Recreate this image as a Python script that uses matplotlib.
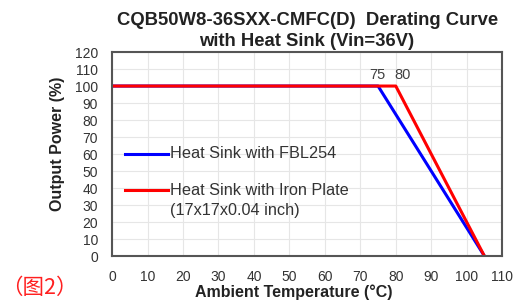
import matplotlib

matplotlib.use("Agg")
from matplotlib import pyplot as plt

# 降额曲线数据
temp_fbl = [0, 75, 105]
power_fbl = [100, 100, 0]
temp_iron = [0, 80, 105]
power_iron = [100, 100, 0]
x_ticks = list(range(0, 111, 10))
y_ticks = list(range(0, 121, 10))
label_fbl = "Heat Sink with FBL254"
label_iron = "Heat Sink with Iron Plate"
label_iron2 = "(17x17x0.04 inch)"

plt.rcParams["font.family"] = ["Liberation Sans", "DejaVu Sans"]

fig = plt.figure(figsize=(5.14, 3.06), dpi=100)
ax = fig.add_axes([0.218, 0.163, 0.759, 0.667])

ax.plot(temp_fbl, power_fbl, color="#0000ff", lw=2.2)
ax.plot(temp_iron, power_iron, color="#ff0000", lw=2.2)

ax.set_xlim(0, 110)
ax.set_ylim(0, 120)
ax.set_xticks(x_ticks)
ax.set_yticks(y_ticks)
ax.tick_params(length=0, labelsize=10, colors="#333333", pad=10)
ax.grid(True, color="#e6e6e6", lw=0.8)
ax.set_axisbelow(True)
for s in ax.spines.values():
    s.set_color("#555555")
    s.set_linewidth(1.5)

ax.set_xlabel("Ambient Temperature (\u00b0C)", fontsize=11.5, fontweight="bold", color="#222222")
ax.set_ylabel("Output Power (%)", fontsize=11.5, fontweight="bold", color="#222222")
ax.xaxis.set_label_coords(0.467, -0.14)
ax.yaxis.set_label_coords(-0.12, 0.55)
ax.set_title("CQB50W8-36SXX-CMFC(D)  Derating Curve\nwith Heat Sink (Vin=36V)",
             fontsize=13.3, fontweight="bold", color="#222222", linespacing=1.35, pad=4)

ax.text(74.8, 102.5, "75", ha="center", va="bottom", fontsize=10.5, color="#404040")
ax.text(82, 102.5, "80", ha="center", va="bottom", fontsize=10.5, color="#404040")

# 图例(手动)
ax.plot([0.033, 0.144], [0.502, 0.502], color="#0000ff", lw=2.2, transform=ax.transAxes)
ax.plot([0.033, 0.144], [0.322, 0.322], color="#ff0000", lw=2.2, transform=ax.transAxes)
ax.text(0.149, 0.502, label_fbl, transform=ax.transAxes, va="center", fontsize=11.7, color="#333333")
ax.text(0.149, 0.322, label_iron, transform=ax.transAxes, va="center", fontsize=11.7, color="#333333")
ax.text(0.149, 0.222, label_iron2, transform=ax.transAxes, va="center", fontsize=11.7, color="#333333")

fig.text(0.002, 0.058, "（图2）", color="#ff2020", fontsize=15.5, va="center",
         family=["Noto Sans CJK SC", "DejaVu Sans"])

fig.savefig("out.png", dpi=100)
